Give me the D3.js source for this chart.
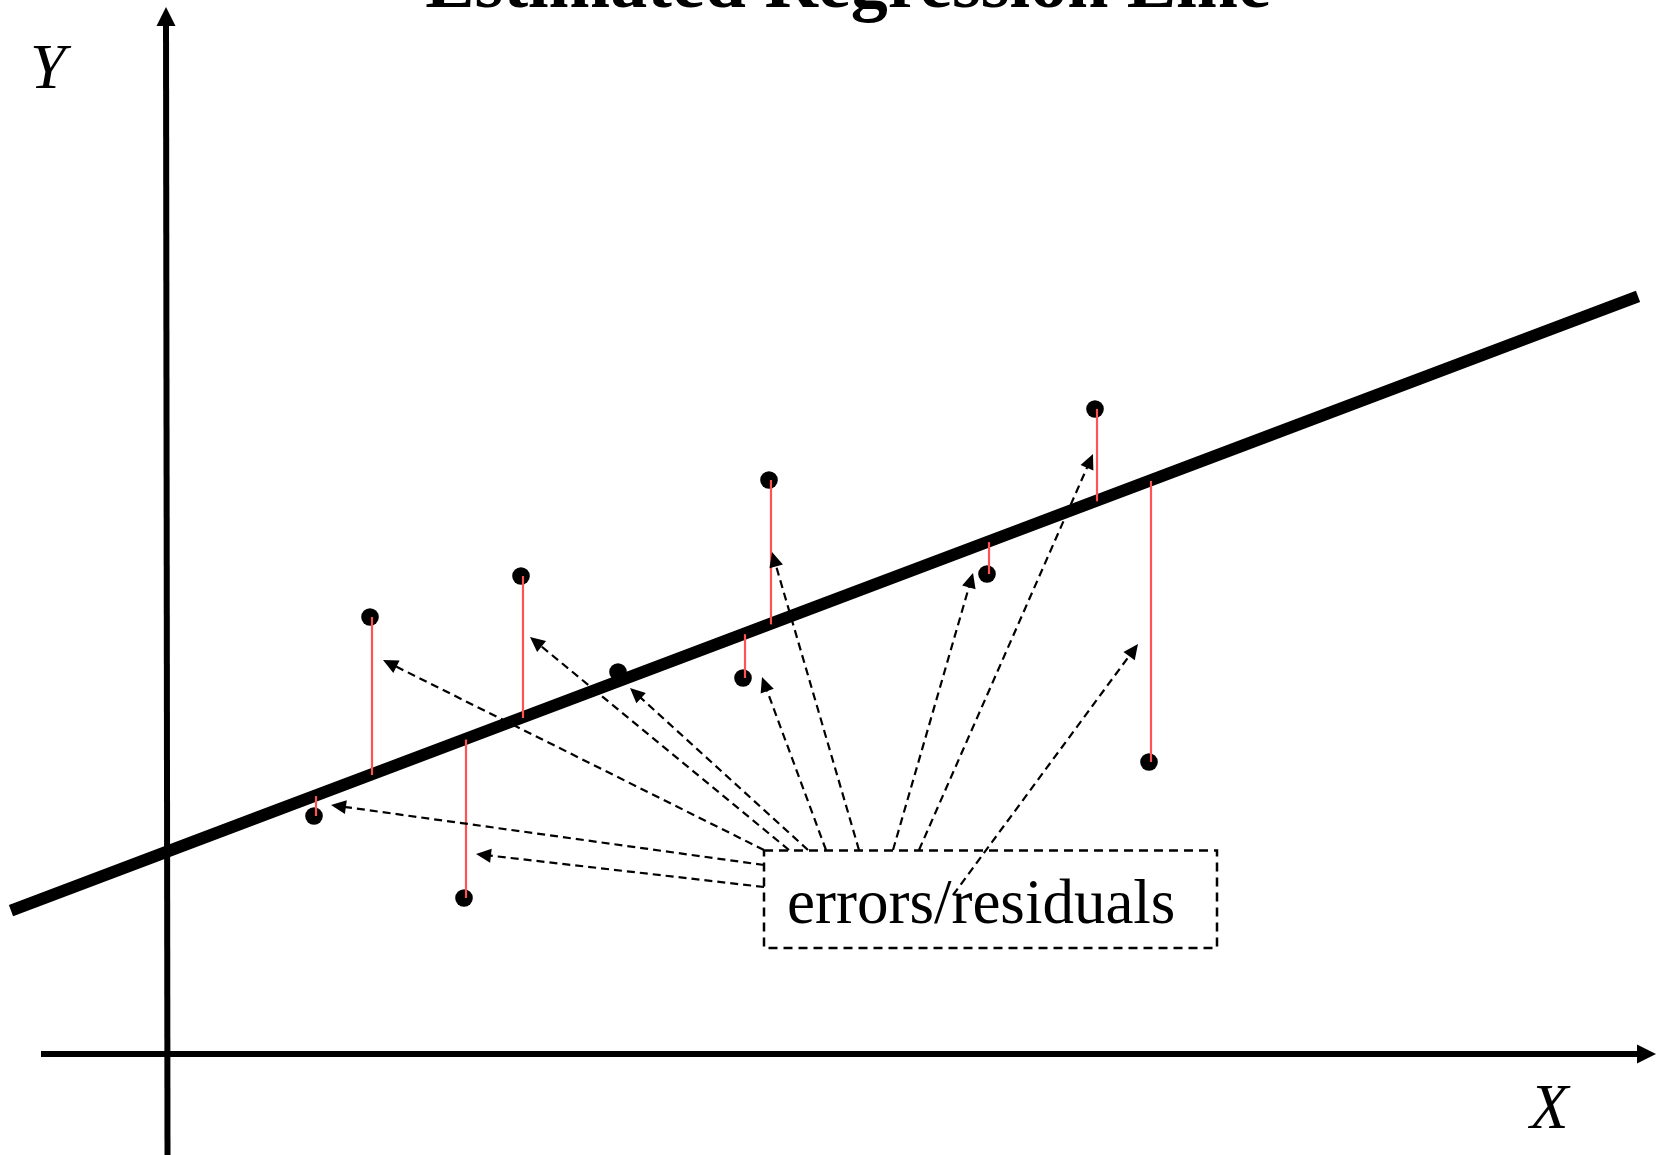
<!DOCTYPE html>
<html>
<head>
<meta charset="utf-8">
<script src="https://cdn.jsdelivr.net/npm/d3@7"></script>
<style>
  body { margin: 0; background: #fff; }
  svg { display: block; font-family: "Liberation Serif", "Times New Roman", serif; }
</style>
</head>
<body>
<svg id="fig" width="1658" height="1155"></svg>
<script>
// observed points (data units)
const ptX = [1.48, 2.04, 2.98, 3.55, 4.52, 5.77, 6.03, 8.21, 9.29, 9.83];
const ptY = [2.38, 4.37, 1.56, 4.78, 3.82, 3.76, 5.74, 4.80, 6.45, 2.92];
const hasResid = [true, true, true, true, false, true, true, true, true, true];

// estimated regression line
const intercept = 2.02;
const slope = 0.3775;
const lineX = [-1.55, 14.72];

// label box and the arrows that leave it
const boxCorners = [[5.98, 2.035], [10.51, 1.06]];
const arrowFrom = [[5.98, 1.89], [5.98, 1.67], [5.98, 2.04], [6.23, 2.04], [6.42, 2.04],
                   [6.60, 2.04], [6.93, 2.04], [7.27, 2.04], [7.53, 2.04], [7.87, 1.59]];
const arrowTo = [[1.65, 2.49], [3.10, 2.00], [2.17, 3.94], [3.64, 4.17], [4.64, 3.66],
                 [5.96, 3.77], [6.06, 5.02], [8.07, 4.81], [9.27, 6.00], [9.72, 4.10]];

const xAxisExt = [-1.25, 14.9];
const yAxisExt = [-1.01, 10.47];

const title = "Estimated Regression Line";
const boxLabel = "errors/residuals";

const x = d3.scaleLinear().domain([0, 14.9]).range([166, 1656]);
const y = d3.scaleLinear().domain([0, 10.47]).range([1054, 7]);
const fit = v => intercept + slope * v;

const Fig = d3.select("#fig");

// filled triangle with its tip at (tx, ty), pointing away from (fx, fy)
function head(g, fx, fy, tx, ty, len, half) {
    const a = Math.atan2(ty - fy, tx - fx) * 180 / Math.PI;
    g.append("path")
        .attr("d", `M0,0L${-len},${-half}L${-len},${half}Z`)
        .attr("transform", `translate(${tx},${ty}) rotate(${a})`)
        .attr("fill", "black");
}

// axes
const ax0 = [x(xAxisExt[0]), y(0)], ax1 = [x(xAxisExt[1]), y(0)];
Fig.append("line")
    .attr("x1", ax0[0]).attr("y1", ax0[1])
    .attr("x2", ax1[0] - 10).attr("y2", ax1[1])
    .attr("stroke", "black").attr("stroke-width", 6);
head(Fig, ax0[0], ax0[1], ax1[0], ax1[1], 19, 9.5);

const ay0 = [x(0) + 1.5, y(yAxisExt[0])], ay1 = [x(0), y(yAxisExt[1])];
Fig.append("line")
    .attr("x1", ay0[0]).attr("y1", ay0[1])
    .attr("x2", ay1[0]).attr("y2", ay1[1] + 10)
    .attr("stroke", "black").attr("stroke-width", 6);
head(Fig, ay0[0], ay0[1], ay1[0], ay1[1], 19, 9.5);

Fig.append("text")
    .attr("x", 1530).attr("y", 1128)
    .attr("font-size", 63).attr("font-style", "italic")
    .text("X");
Fig.append("text")
    .attr("x", 30).attr("y", 88)
    .attr("font-size", 64).attr("font-style", "italic")
    .text("Y");

// title (cut off at the top, as in the source)
Fig.append("text")
    .attr("x", 848).attr("y", 7)
    .attr("text-anchor", "middle")
    .attr("font-size", 74).attr("font-weight", "bold")
    .text(title);

// regression line
Fig.append("line")
    .attr("x1", x(lineX[0])).attr("y1", y(fit(lineX[0])))
    .attr("x2", x(lineX[1])).attr("y2", y(fit(lineX[1])))
    .attr("stroke", "black").attr("stroke-width", 12);

// points
const pts = ptX.map((v, i) => ({x: v, y: ptY[i], r: hasResid[i]}));
Fig.selectAll(".pt")
    .data(pts)
    .join("circle")
    .attr("class", "pt")
    .attr("cx", d => x(d.x)).attr("cy", d => y(d.y))
    .attr("r", 8.8).attr("fill", "black");

// residuals
Fig.selectAll(".resid")
    .data(pts.filter(d => d.r))
    .join("line")
    .attr("class", "resid")
    .attr("x1", d => x(d.x) + 2).attr("x2", d => x(d.x) + 2)
    .attr("y1", d => y(d.y)).attr("y2", d => y(fit(d.x)))
    .attr("stroke", "#ff5252").attr("stroke-width", 2.2);

// label box
Fig.append("rect")
    .attr("x", x(boxCorners[0][0])).attr("y", y(boxCorners[0][1]))
    .attr("width", x(boxCorners[1][0]) - x(boxCorners[0][0]))
    .attr("height", y(boxCorners[1][1]) - y(boxCorners[0][1]))
    .attr("fill", "none").attr("stroke", "black")
    .attr("stroke-width", 2.5).attr("stroke-dasharray", "9,6");
Fig.append("text")
    .attr("x", 787).attr("y", 923)
    .attr("font-size", 63)
    .text(boxLabel);

// arrows
const arrows = Fig.append("g");
arrowFrom.forEach((f, i) => {
    const x1 = x(f[0]), y1 = y(f[1]);
    const x2 = x(arrowTo[i][0]), y2 = y(arrowTo[i][1]);
    const len = Math.hypot(x2 - x1, y2 - y1);
    const k = (len - 12) / len;
    arrows.append("line")
        .attr("x1", x1).attr("y1", y1)
        .attr("x2", x1 + (x2 - x1) * k).attr("y2", y1 + (y2 - y1) * k)
        .attr("stroke", "black").attr("stroke-width", 2.2)
        .attr("stroke-dasharray", "8,5");
    head(arrows, x1, y1, x2, y2, 15, 7);
});
</script>
</body>
</html>
